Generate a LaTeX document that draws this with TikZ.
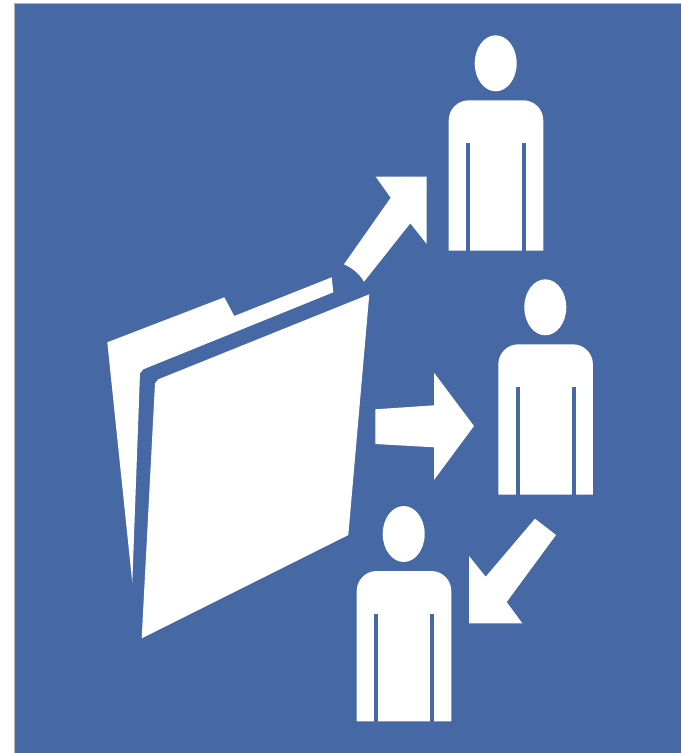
\documentclass[tikz,border=0pt]{standalone}
\usepackage{tikz}
\definecolor{panelblue}{HTML}{4668A5}
\definecolor{panelshadow}{HTML}{B4B4B8}

\begin{document}
\begin{tikzpicture}[
    x=1pt, y=-1pt,
    glyph/.style={fill=white, draw=none},
    gap/.style={fill=panelblue, draw=none}
]

\useasboundingbox (0, 0) rectangle (681, 753);

% -------------------------
% Panel
% -------------------------
\fill[white] (0, 0) rectangle (681, 753);
\fill[panelshadow] (13.5, 2.5) rectangle (681, 753);
\fill[panelblue] (15, 4) rectangle (681, 753);

% -------------------------
% Folder
% -------------------------

% Back leaf with tab
\fill[glyph] (107.3, 342.3) -- (224.3, 297.3) -- (234.3, 316) -- (331.7, 277.3)
    -- (333.3, 292.3) -- (143.3, 369.3) -- (140, 373.3) -- (132.3, 582.7) -- cycle;

% Front leaf
\fill[glyph] (369.3, 294.3) -- (348.3, 535) -- (141.7, 638.3)
    -- (155, 383.3) -- (158.3, 379.3) -- cycle;

% -------------------------
% Arrows
% -------------------------

% Folder to top person
\fill[glyph] (344, 264.3) -- (390.7, 197.7) -- (375.7, 176.7) -- (426.7, 176.7)
    -- (426.7, 244) -- (410.3, 223.3) -- (364, 281.7)
    .. controls (359, 273) and (352, 268) .. (344, 264.3) -- cycle;

% Folder to middle person
\fill[glyph] (375.3, 409.3) -- (434, 405.3) -- (434, 372.7) -- (474, 426)
    -- (434, 480) -- (434, 447.3) -- (375.3, 444) -- cycle;

% Middle person to bottom person
\fill[glyph] (535, 518.7) -- (556, 535) -- (506.7, 602) -- (522.3, 623.3)
    -- (469, 623.3) -- (469, 556) -- (485.7, 576.7) -- cycle;

% -------------------------
% People
% -------------------------
\foreach \headx/\heady in {495.7/63.3, 545.3/307.3, 403.7/534} {
    \begin{scope}[shift={(\headx, \heady)}]
        \fill[glyph] (0, 0) ellipse [x radius=21, y radius=28];
        \fill[glyph] (-47, 187.4) [rounded corners=20pt] -- (-47, 37) -- (47.6, 37)
            [sharp corners] -- (47.6, 187.4) -- cycle;
        \fill[gap] (-29.7, 80) rectangle (-25.7, 188.4);
        \fill[gap] (26.6, 80) rectangle (30.6, 188.4);
    \end{scope}
}

\end{tikzpicture}
\end{document}
